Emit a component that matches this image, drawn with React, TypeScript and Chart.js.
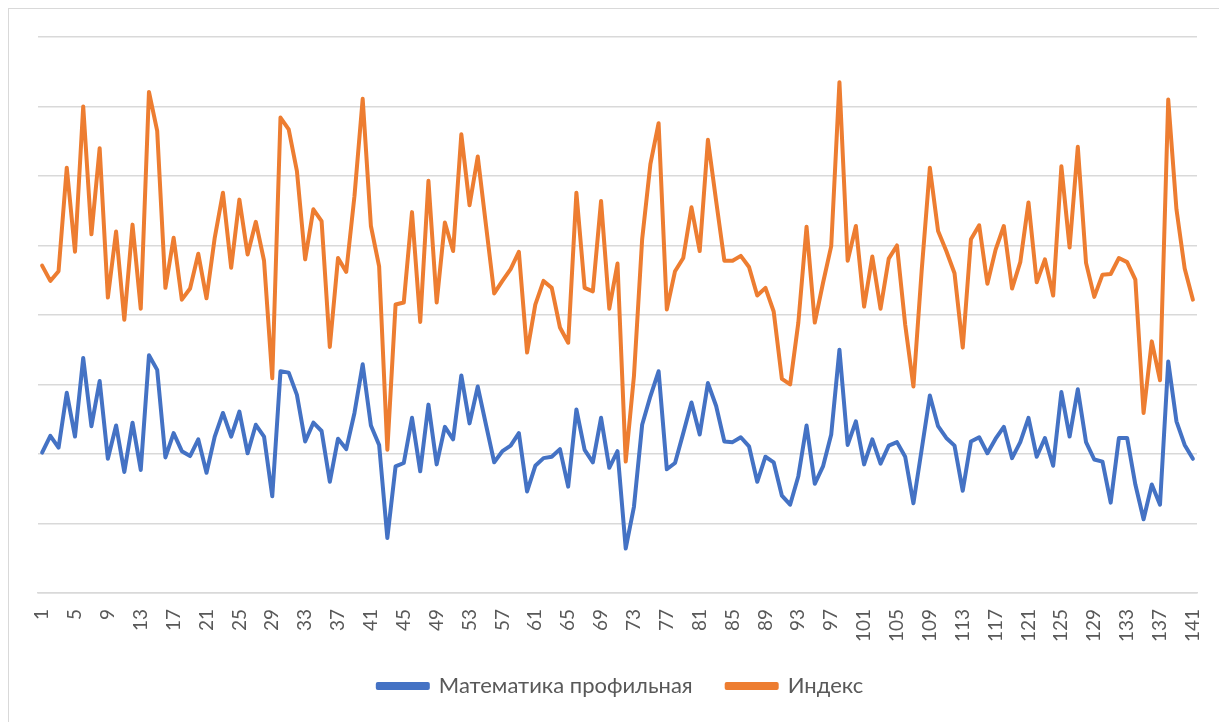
import React, { useEffect, useRef } from "react";
import { Chart, registerables } from "chart.js";

Chart.register(...registerables);

const categories: string[] = [
  "1","2","3","4","5","6","7","8","9","10","11","12","13","14","15","16","17","18","19","20",
  "21","22","23","24","25","26","27","28","29","30","31","32","33","34","35","36","37","38","39","40",
  "41","42","43","44","45","46","47","48","49","50","51","52","53","54","55","56","57","58","59","60",
  "61","62","63","64","65","66","67","68","69","70","71","72","73","74","75","76","77","78","79","80",
  "81","82","83","84","85","86","87","88","89","90","91","92","93","94","95","96","97","98","99","100",
  "101","102","103","104","105","106","107","108","109","110","111","112","113","114","115","116","117","118","119","120",
  "121","122","123","124","125","126","127","128","129","130","131","132","133","134","135","136","137","138","139","140",
  "141",
];

const mathLabel = "Математика профильная";
const indexLabel = "Индекс";

const mathValues: number[] = [
  20.2, 22.6, 20.9, 28.8, 22.5, 33.8, 24.0, 30.5, 19.3, 24.1,
  17.4, 24.5, 17.7, 34.2, 32.1, 19.5, 23.0, 20.4, 19.7, 22.1,
  17.3, 22.5, 25.9, 22.5, 26.1, 20.1, 24.2, 22.5, 13.9, 31.9,
  31.7, 28.5, 21.8, 24.5, 23.3, 16.0, 22.2, 20.7, 25.9, 32.9,
  24.1, 21.3, 7.9, 18.2, 18.7, 25.2, 17.5, 27.1, 18.5, 23.9,
  22.1, 31.3, 24.4, 29.7, 24.2, 18.8, 20.4, 21.2, 23.0, 14.6,
  18.3, 19.4, 19.6, 20.7, 15.3, 26.4, 20.6, 18.8, 25.2, 18.0,
  20.4, 6.4, 12.4, 24.2, 28.3, 31.9, 17.8, 18.7, 23.0, 27.4,
  22.8, 30.2, 26.9, 21.8, 21.7, 22.4, 21.1, 16.0, 19.6, 18.8,
  14.0, 12.7, 16.8, 24.1, 15.7, 18.2, 22.8, 35.0, 21.3, 24.7,
  18.5, 22.1, 18.6, 21.2, 21.7, 19.6, 12.9, 20.6, 28.4, 24.0,
  22.3, 21.2, 14.7, 21.8, 22.4, 20.1, 22.2, 23.9, 19.4, 21.7,
  25.2, 19.6, 22.3, 18.3, 28.9, 22.5, 29.3, 21.7, 19.2, 18.9,
  13.0, 22.3, 22.3, 15.6, 10.6, 15.6, 12.7, 33.3, 24.7, 21.3,
  19.3,
];

const indexValues: number[] = [
  47.1, 44.9, 46.3, 61.2, 49.1, 70.0, 51.6, 64.0, 42.5, 52.0,
  39.3, 53.0, 40.9, 72.1, 66.5, 43.9, 51.1, 42.2, 43.8, 48.8,
  42.4, 51.1, 57.6, 46.8, 56.6, 48.7, 53.4, 47.8, 30.9, 68.4,
  66.7, 60.7, 48.0, 55.2, 53.5, 35.4, 48.2, 46.2, 57.1, 71.1,
  52.8, 47.0, 20.6, 41.5, 41.8, 54.8, 39.0, 59.3, 41.8, 53.3,
  49.2, 66.0, 55.8, 62.8, 52.9, 43.1, 44.9, 46.6, 49.1, 34.6,
  41.5, 44.9, 43.9, 38.2, 36.0, 57.6, 43.9, 43.4, 56.4, 40.9,
  47.4, 18.9, 31.2, 50.9, 61.7, 67.6, 40.8, 46.3, 48.2, 55.5,
  49.2, 65.2, 56.4, 47.8, 47.8, 48.5, 46.9, 42.8, 43.9, 40.5,
  30.8, 30.0, 38.9, 52.7, 38.9, 44.6, 49.9, 73.5, 47.8, 52.8,
  41.2, 48.4, 40.9, 48.1, 50.0, 38.6, 29.7, 46.3, 61.2, 52.1,
  49.2, 46.0, 35.3, 50.9, 52.9, 44.5, 49.4, 52.8, 43.8, 47.6,
  56.2, 44.7, 48.0, 42.8, 61.4, 49.7, 64.2, 47.5, 42.6, 45.8,
  45.9, 48.2, 47.6, 45.1, 25.9, 36.2, 30.6, 71.0, 55.2, 46.7,
  42.2,
];

const BLUE = "#4472C4";
const ORANGE = "#ED7D31";
const GRID = "#D9D9D9";
const TEXT = "#595959";
const FONT = "Lato, 'Open Sans', sans-serif";

const legendShift = {
  id: "legendShift",
  afterLayout(chart: any) {
    const lg = chart.legend;
    if (lg) {
      lg.left += 3;
      lg.right += 3;
    }
  },
};

export default function App() {
  const canvasRef = useRef<HTMLCanvasElement | null>(null);

  useEffect(() => {
    document.body.style.overflow = "hidden";
    const canvas = canvasRef.current;
    if (!canvas) return;
    const chart = new Chart(canvas, {
      type: "line",
      data: {
        labels: categories,
        datasets: [
          {
            label: mathLabel,
            data: mathValues,
            borderColor: BLUE,
            backgroundColor: BLUE,
            borderWidth: 4,
            pointRadius: 0,
            pointHoverRadius: 0,
            tension: 0,
            fill: false,
            borderJoinStyle: "round",
            borderCapStyle: "round",
          },
          {
            label: indexLabel,
            data: indexValues,
            borderColor: ORANGE,
            backgroundColor: ORANGE,
            borderWidth: 4,
            pointRadius: 0,
            pointHoverRadius: 0,
            tension: 0,
            fill: false,
            borderJoinStyle: "round",
            borderCapStyle: "round",
          },
        ],
      },
      options: {
        animation: false,
        responsive: true,
        maintainAspectRatio: false,
        layout: { padding: { left: 29, right: 28, top: 28, bottom: 22 } },
        plugins: {
          tooltip: { enabled: false },
          legend: {
            display: true,
            position: "bottom",
            labels: {
              boxWidth: 50,
              boxHeight: 4,
              padding: 34,
              color: TEXT,
              font: { family: FONT, size: 22 },
            },
          },
        },
        scales: {
          x: {
            offset: true,
            grid: { display: false, drawTicks: false },
            border: { display: true, color: GRID, width: 1.5 },
            afterFit: (s: any) => {
              s.height -= 17;
              s.paddingRight = 0;
              s.paddingLeft = 0;
            },
            ticks: {
              autoSkip: false,
              maxRotation: 90,
              minRotation: 90,
              padding: 16,
              color: TEXT,
              font: { family: FONT, size: 19 },
              callback: (_v: any, i: number) => (i % 4 === 0 ? categories[i] : ""),
            },
          },
          y: {
            min: 0,
            max: 80,
            display: true,
            border: { display: false },
            grid: { color: GRID, lineWidth: 1.5, drawTicks: false },
            ticks: { display: false, stepSize: 10 },
            afterFit: (s: any) => {
              s.width = 0;
            },
          },
        },
      },
      plugins: [legendShift],
    });
    return () => chart.destroy();
  }, []);

  return (
    <div
      style={{
        boxSizing: "border-box",
        width: 1218,
        height: 722,
        border: `1px solid ${GRID}`,
        background: "#fff",
      }}
    >
      <div style={{ position: "relative", width: 1216, height: 720 }}>
        <canvas ref={canvasRef} />
      </div>
    </div>
  );
}
